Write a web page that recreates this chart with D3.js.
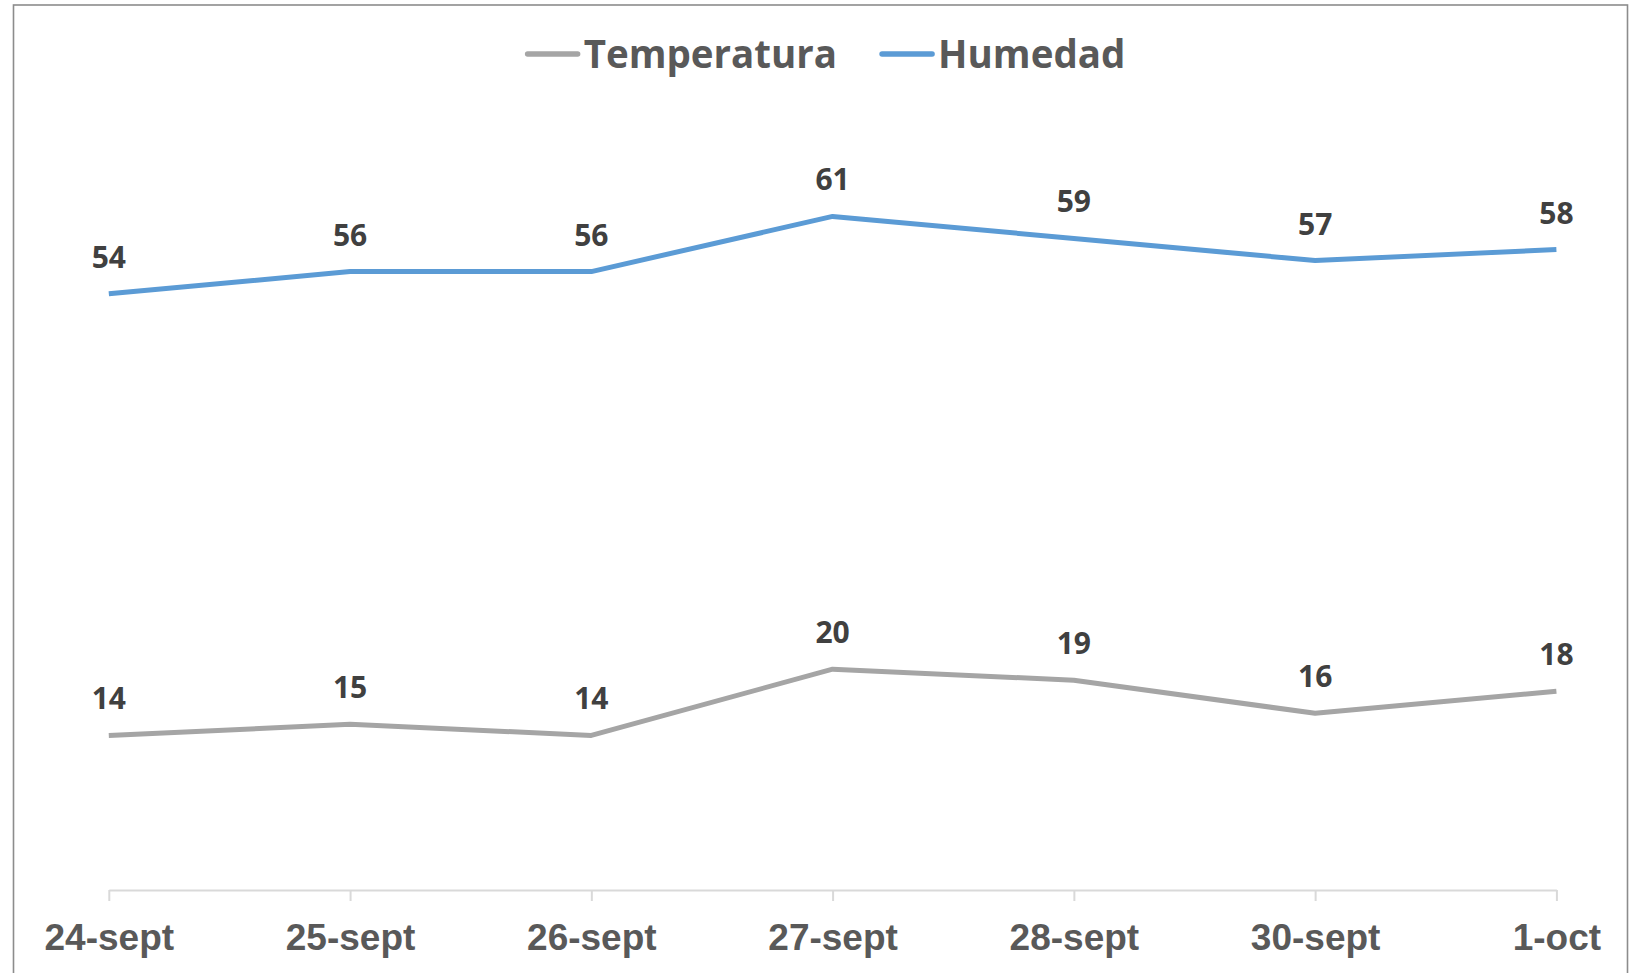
<!DOCTYPE html>
<html>
<head>
<meta charset="utf-8">
<script src="https://cdn.jsdelivr.net/npm/d3@7"></script>
<style>
  html, body { margin: 0; padding: 0; background: #fff; }
  svg { display: block; font-family: "Open Sans", "Noto Sans", sans-serif; }
</style>
</head>
<body>
<div id="chart"></div>
<script>
// chart data
var categories = ["24-sept", "25-sept", "26-sept", "27-sept", "28-sept", "30-sept", "1-oct"];
var temperatura = [14, 15, 14, 20, 19, 16, 18];
var humedad = [54, 56, 56, 61, 59, 57, 58];
var seriesNames = ["Temperatura", "Humedad"];
var yDomain = [0, 70];

var totalWidth = 1640, totalHeight = 973;
var margin = { top: 117, right: 83.6, bottom: 83, left: 108.8 },
    width = totalWidth - margin.left - margin.right,
    height = totalHeight - margin.top - margin.bottom;

var colors = { "Temperatura": "#a5a5a5", "Humedad": "#5b9bd5" };

var svg = d3.select("#chart")
    .append("svg")
    .attr("width", totalWidth)
    .attr("height", totalHeight);

// outer frame (bottom edge runs off the picture)
svg.append("rect")
    .attr("x", 13.5)
    .attr("y", 5)
    .attr("width", 1614)
    .attr("height", 990)
    .attr("fill", "none")
    .attr("stroke", "#8c8c8c")
    .attr("stroke-width", 1.6);

var g = svg.append("g")
    .attr("transform", "translate(" + margin.left + "," + margin.top + ")");

var x = d3.scalePoint().domain(categories).range([0, width]);
var y = d3.scaleLinear().domain(yDomain).range([height, 0]);

// x axis
var xAxis = d3.axisBottom(x).tickSizeInner(11).tickSizeOuter(0);
var axisG = g.append("g")
    .attr("transform", "translate(0," + height + ")")
    .call(xAxis);
axisG.select(".domain").attr("stroke", "#d9d9d9").attr("stroke-width", 2);
axisG.selectAll(".tick line").attr("stroke", "#d9d9d9").attr("stroke-width", 2);
axisG.selectAll(".tick text")
    .attr("y", 60)
    .attr("dy", 0)
    .attr("fill", "#595959")
    .style("font-size", "37px")
    .style("font-weight", 700);

var series = [
    { name: seriesNames[0], values: temperatura },
    { name: seriesNames[1], values: humedad }
];

var line = d3.line()
    .x(function (d, i) { return x(categories[i]); })
    .y(function (d) { return y(d); });

series.forEach(function (s) {
    g.append("path")
        .datum(s.values)
        .attr("fill", "none")
        .attr("stroke", colors[s.name])
        .attr("stroke-width", 5)
        .attr("stroke-linejoin", "round")
        .attr("d", line);

    g.selectAll(null)
        .data(s.values)
        .enter()
        .append("text")
        .attr("x", function (d, i) { return x(categories[i]); })
        .attr("y", function (d) { return y(d) - 26; })
        .attr("text-anchor", "middle")
        .attr("fill", "#404040")
        .style("font-size", "30px")
        .style("font-weight", 700)
        .text(function (d) { return d; });
});

// legend
var legend = svg.append("g");
var lx = 0;
seriesNames.forEach(function (name) {
    var item = legend.append("g").attr("transform", "translate(" + lx + ",0)");
    item.append("line")
        .attr("x1", 3).attr("x2", 53)
        .attr("y1", 0).attr("y2", 0)
        .attr("stroke", colors[name])
        .attr("stroke-width", 5.5)
        .attr("stroke-linecap", "round");
    var t = item.append("text")
        .attr("x", 59)
        .attr("y", 14)
        .attr("fill", "#595959")
        .style("font-size", "38.5px")
        .style("font-weight", 700)
        .text(name);
    lx += 59 + t.node().getComputedTextLength() + 42;
});
var legendWidth = lx - 42;
legend.attr("transform", "translate(" + (825 - legendWidth / 2) + ",54)");
</script>
</body>
</html>
